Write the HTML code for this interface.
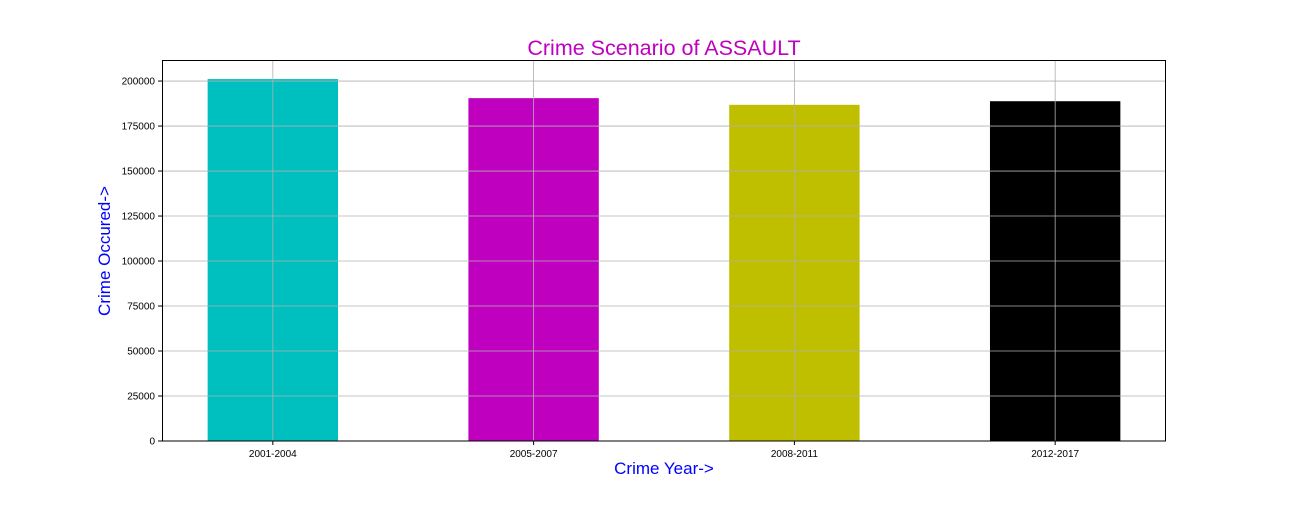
<!DOCTYPE html>
<html><head><meta charset="utf-8"><style>
body{margin:0;background:#fff;width:1296px;height:504px;overflow:hidden}
svg text{font-family:"Liberation Sans","DejaVu Sans",sans-serif}
</style></head><body>
<svg id="chart" width="1296" height="504" xmlns="http://www.w3.org/2000/svg">
<rect width="1296" height="504" fill="#fff"/>
<text x="664" y="55" text-anchor="middle" font-size="21.5" fill="#bf00bf">Crime Scenario of ASSAULT</text>
<text x="664" y="474" text-anchor="middle" font-size="17" fill="#0000ff">Crime Year-&gt;</text>
<text transform="translate(110,251) rotate(-90)" text-anchor="middle" font-size="17" fill="#0000ff">Crime Occured-&gt;</text>
<g id="bars"></g><g id="grid"></g><g id="ticks"></g>
<rect x="162.5" y="60.5" width="1003" height="380.5" fill="none" stroke="#000" stroke-width="1"/>
</svg>
<script>
const categories = ["2001-2004","2005-2007","2008-2011","2012-2017"];
const values = [201100, 190500, 186800, 188800];
const colors = ["#00bfbf","#bf00bf","#bfbf00","#000000"];
const yTicks = [0,25000,50000,75000,100000,125000,150000,175000,200000];
const NS="http://www.w3.org/2000/svg";
const L=162,R=1166,T=60,B=441,yMax=211700,xMin=-0.425,xMax=3.425;
const x=i=>L+(i-xMin)/(xMax-xMin)*(R-L);
const y=v=>B-v/yMax*(B-T);
const bw=0.5*(R-L)/(xMax-xMin);
function mk(tag,attrs,parent){const e=document.createElementNS(NS,tag);for(const k in attrs)e.setAttribute(k,attrs[k]);parent.appendChild(e);return e;}
const gb=document.getElementById('bars'),gg=document.getElementById('grid'),gt=document.getElementById('ticks');
categories.forEach((c,i)=>{
  const r=mk('rect',{x:x(i)-bw/2,y:y(values[i]),width:bw,height:B-y(values[i]),fill:colors[i]},gb);
  
  
  const gl=mk('line',{x1:x(i),x2:x(i),y1:T,y2:B,stroke:'#b0b0b0','stroke-width':0.8},gg);
  
  
  mk('line',{x1:x(i),x2:x(i),y1:B,y2:B+4,stroke:'#000'},gt);
  const t=mk('text',{x:x(i),y:B+16,'text-anchor':'middle','font-size':10,fill:'#000'},gt);
  t.textContent=c;
  
  
});
yTicks.forEach(v=>{
  const gl=mk('line',{x1:L,x2:R,y1:y(v),y2:y(v),stroke:'#b0b0b0','stroke-width':0.8},gg);
  
  
  mk('line',{x1:L-4,x2:L,y1:y(v),y2:y(v),stroke:'#000'},gt);
  const t=mk('text',{x:L-7,y:y(v)+3.5,'text-anchor':'end','font-size':10,fill:'#000'},gt);
  t.textContent=v;
  
  
});
</script>
</body></html>
